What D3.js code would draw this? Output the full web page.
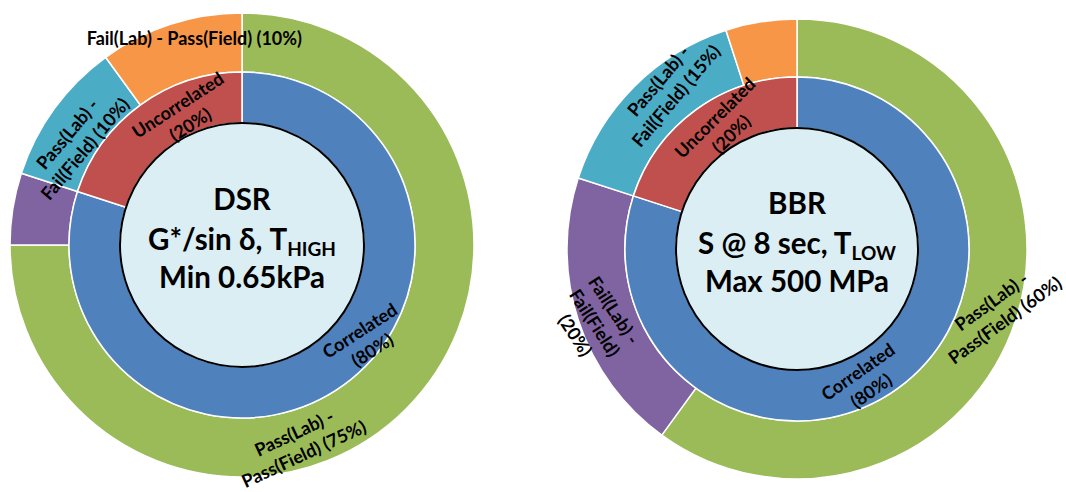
<!DOCTYPE html>
<html><head><meta charset="utf-8">
<script src="https://cdn.jsdelivr.net/npm/d3@7/dist/d3.min.js"></script>
<style>
html,body{margin:0;padding:0;background:#fff;}
svg{display:block;font-family:Lato,"Open Sans",sans-serif;}
</style></head>
<body><svg id="chart" width="1066" height="492"></svg>
<script>
// ---- data ----
const innerCategories = ["Correlated", "Uncorrelated"];
const outerCategories = ["Pass(Lab) - Pass(Field)", "Fail(Lab) - Fail(Field)", "Pass(Lab) - Fail(Field)", "Fail(Lab) - Pass(Field)"];
const dsrInner = [80, 20];
const dsrOuter = [75, 5, 10, 10];
const bbrInner = [80, 20];
const bbrOuter = [60, 20, 15, 5];
const dsrTitle = ["DSR", ["G*/sin δ, T", "HIGH"], "Min 0.65kPa"];
const bbrTitle = ["BBR", ["S @ 8 sec, T", "LOW"], "Max 500 MPa"];

// ---- styling / layout ----
const innerColors = ["#4f81bd", "#c0504d"];
const outerColors = ["#9bbb59", "#8064a2", "#4bacc6", "#f79646"];
const charts = [
  { cx: 242, cy: 245, rIn: 122, rMid: 173, rOut: 232, inner: dsrInner, outer: dsrOuter, title: dsrTitle,
    innerLabels: [{a:127.5, r:156, rot:-33, mode:"two"}, {a:336, r:143, rot:-33, mode:"two"}],
    outerLabels: [{a:164, r:206, rot:-25, mode:"two"}, null, {a:302, r:196, rot:-50, mode:"two"}, {a:347, r:212, rot:0, mode:"one"}] },
  { cx: 797, cy: 249, rIn: 121, rMid: 172, rOut: 230, inner: bbrInner, outer: bbrOuter, title: bbrTitle,
    innerLabels: [{a:153, r:148, rot:-35, mode:"two"}, {a:329, r:144, rot:-45, mode:"two"}],
    outerLabels: [{a:107, r:210, rot:-36, mode:"two"}, {a:250, r:215, rot:57, mode:"three"}, {a:321, r:207, rot:-50, mode:"two"}, null] }
];

const svg = d3.select("#chart");
const pie = d3.pie().sort(null).value(d => d);
const labelSize = 18, labelLH = 23;
const titleSize = 29.5, subSize = 19;

function labelLines(cat, v, mode) {
  const pct = "(" + v + "%)";
  if (mode === "one") return [cat + " " + pct];
  if (cat.indexOf(" - ") >= 0) {
    const parts = cat.split(" - ");
    if (mode === "three") return [parts[0] + " -", parts[1], pct];
    return [parts[0] + " -", parts[1] + " " + pct];
  }
  return [cat, pct];
}

function drawLabel(g, lay, lines) {
  const rad = lay.a * Math.PI / 180;
  const x = lay.r * Math.sin(rad), y = -lay.r * Math.cos(rad);
  const t = g.append("text")
    .attr("transform", `translate(${x},${y}) rotate(${lay.rot})`)
    .attr("text-anchor", "middle")
    .attr("font-size", labelSize).attr("font-weight", "bold").attr("fill", "#000");
  const n = lines.length;
  lines.forEach((ln, i) => {
    t.append("tspan").attr("x", 0).attr("y", (i - (n - 1) / 2) * labelLH)
      .attr("dominant-baseline", "central").text(ln);
  });
}

charts.forEach(c => {
  const g = svg.append("g").attr("transform", `translate(${c.cx},${c.cy})`);
  const arcOuter = d3.arc().innerRadius(c.rMid).outerRadius(c.rOut);
  const arcInner = d3.arc().innerRadius(c.rIn).outerRadius(c.rMid);
  g.selectAll("path.outer").data(pie(c.outer)).join("path").attr("class", "outer")
    .attr("d", arcOuter).attr("fill", (d, i) => outerColors[i])
    .attr("stroke", "#fff").attr("stroke-width", 1.5);
  g.selectAll("path.inner").data(pie(c.inner)).join("path").attr("class", "inner")
    .attr("d", arcInner).attr("fill", (d, i) => innerColors[i])
    .attr("stroke", "#fff").attr("stroke-width", 1.5);
  g.append("circle").attr("r", c.rIn).attr("fill", "#daeef3").attr("stroke", "#000").attr("stroke-width", 2);

  // center title
  const baselines = [-35, 5, 43];
  c.title.forEach((ln, i) => {
    const line = g.append("text").attr("text-anchor", "middle").attr("font-weight", "bold")
      .attr("font-size", titleSize).attr("fill", "#000").attr("y", baselines[i]);
    if (Array.isArray(ln)) {
      line.append("tspan").text(ln[0]);
      line.append("tspan").attr("font-size", subSize).attr("dy", 6).text(ln[1]);
    } else {
      line.text(ln);
    }
  });

  c.outerLabels.forEach((lay, i) => { if (lay) drawLabel(g, lay, labelLines(outerCategories[i], c.outer[i], lay.mode)); });
  c.innerLabels.forEach((lay, i) => { if (lay) drawLabel(g, lay, labelLines(innerCategories[i], c.inner[i], lay.mode)); });
});
</script></body></html>
